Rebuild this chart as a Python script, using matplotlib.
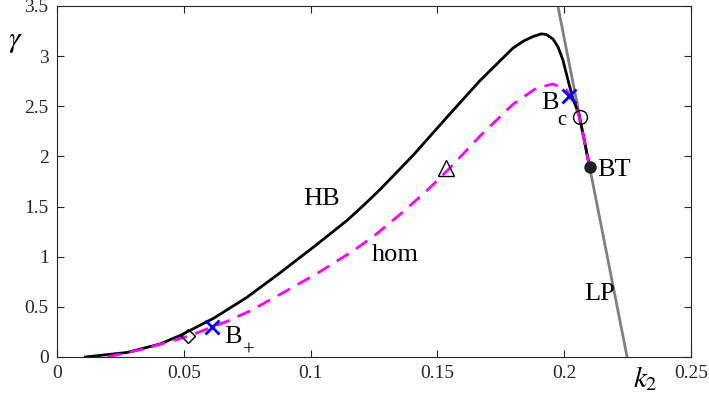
import matplotlib
matplotlib.use("Agg")
import matplotlib.pyplot as plt

plt.rcParams['font.family'] = ['Liberation Serif', 'DejaVu Serif']
plt.rcParams['mathtext.fontset'] = 'stix'

# Hopf bifurcation curve (HB)
hb_k2 = [0.0112, 0.0276, 0.0407, 0.0486, 0.0617, 0.0749, 0.088, 0.1011, 0.1143,
         0.1208, 0.1274, 0.1405, 0.1536, 0.1667, 0.1798, 0.1840, 0.1877, 0.191,
         0.193, 0.1956, 0.1976, 0.1995, 0.2015, 0.2035, 0.2058, 0.2080, 0.2100]
hb_g = [0.0, 0.045, 0.13, 0.215, 0.385, 0.595, 0.84, 1.095, 1.36,
        1.51, 1.67, 2.013, 2.386, 2.753, 3.08, 3.15, 3.195, 3.222,
        3.215, 3.17, 3.09, 2.96, 2.76, 2.57, 2.42, 2.15, 1.895]

# homoclinic curve (hom)
hom_k2 = [0.0198, 0.0342, 0.046, 0.0526, 0.067, 0.0762, 0.088, 0.1024, 0.1169,
          0.1254, 0.1352, 0.1457, 0.1536, 0.1667, 0.1798, 0.189, 0.1956, 0.2009,
          0.2041, 0.2058, 0.2080, 0.2100]
hom_g = [0.0, 0.08, 0.165, 0.215, 0.355, 0.46, 0.625, 0.83, 1.06,
         1.215, 1.42, 1.655, 1.85, 2.20, 2.52, 2.68, 2.722, 2.662,
         2.529, 2.40, 2.15, 1.895]

# limit point line (LP)
lp_k2 = [0.2248, 0.1975]
lp_g = [0.0, 3.5]

# special points
bt = (0.2100, 1.895)
bc = (0.2019, 2.605)
bplus = (0.0613, 0.30)
circ = (0.2061, 2.395)
diam = (0.0515, 0.205)
tri = (0.1534, 1.88)

fig = plt.figure(figsize=(7.09, 3.96), dpi=100)
ax = fig.add_axes([0.0804, 0.0985, 0.8942, 0.8865])

ax.plot(lp_k2, lp_g, color='#808080', lw=2)
ax.plot(hb_k2, hb_g, color='black', lw=2, solid_joinstyle='round')
ax.plot(hom_k2, hom_g, color='magenta', lw=2, dashes=(5, 3.2))

ax.plot(*bc, 'x', color='blue', ms=10, mew=2)
ax.plot(*bplus, 'x', color='blue', ms=10, mew=2)
ax.plot(*circ, 'o', mfc='none', mec='black', ms=10, mew=1)
ax.plot(*diam, 'D', mfc='none', mec='black', ms=7, mew=1)
ax.plot(*tri, '^', mfc='none', mec='black', ms=12, mew=1)
ax.plot(*bt, 'o', color='#222222', ms=8)

fs = 19
ax.text(0.1045, 1.58, 'HB', fontsize=fs, ha='center', va='center')
ax.text(0.1335, 1.02, 'hom', fontsize=fs, ha='center', va='center')
ax.text(0.2140, 0.63, 'LP', fontsize=fs, ha='center', va='center')
ax.text(0.2195, 1.86, 'BT', fontsize=fs, ha='center', va='center')
ax.text(0.1945, 2.53, 'B', fontsize=fs, ha='center', va='center')
ax.text(0.1990, 2.36, 'c', fontsize=15, ha='center', va='center')
ax.text(0.0695, 0.20, 'B', fontsize=fs, ha='center', va='center')
ax.text(0.0755, 0.06, '+', fontsize=15, ha='center', va='center')

ax.set_xlim(0, 0.25)
ax.set_ylim(0, 3.5)
ax.set_xticks([0, 0.05, 0.1, 0.15, 0.2, 0.25])
ax.set_xticklabels(['0', '0.05', '0.1', '0.15', '0.2', '0.25'])
ax.set_yticks([0, 0.5, 1, 1.5, 2, 2.5, 3, 3.5])
ax.set_yticklabels(['0', '0.5', '1', '1.5', '2', '2.5', '3', '3.5'])
ax.tick_params(direction='in', length=5, width=0.8, labelsize=14, colors='#262626',
               top=True, right=True, pad=6)
for s in ax.spines.values():
    s.set_color('#262626')
    s.set_linewidth(0.8)

fig.text(0.022, 0.895, r'$\gamma$', fontsize=21, ha='center', va='center')
fig.text(0.91, 0.045, r'$k_2$', fontsize=21, ha='center', va='center')

fig.savefig('out.png', dpi=100)
